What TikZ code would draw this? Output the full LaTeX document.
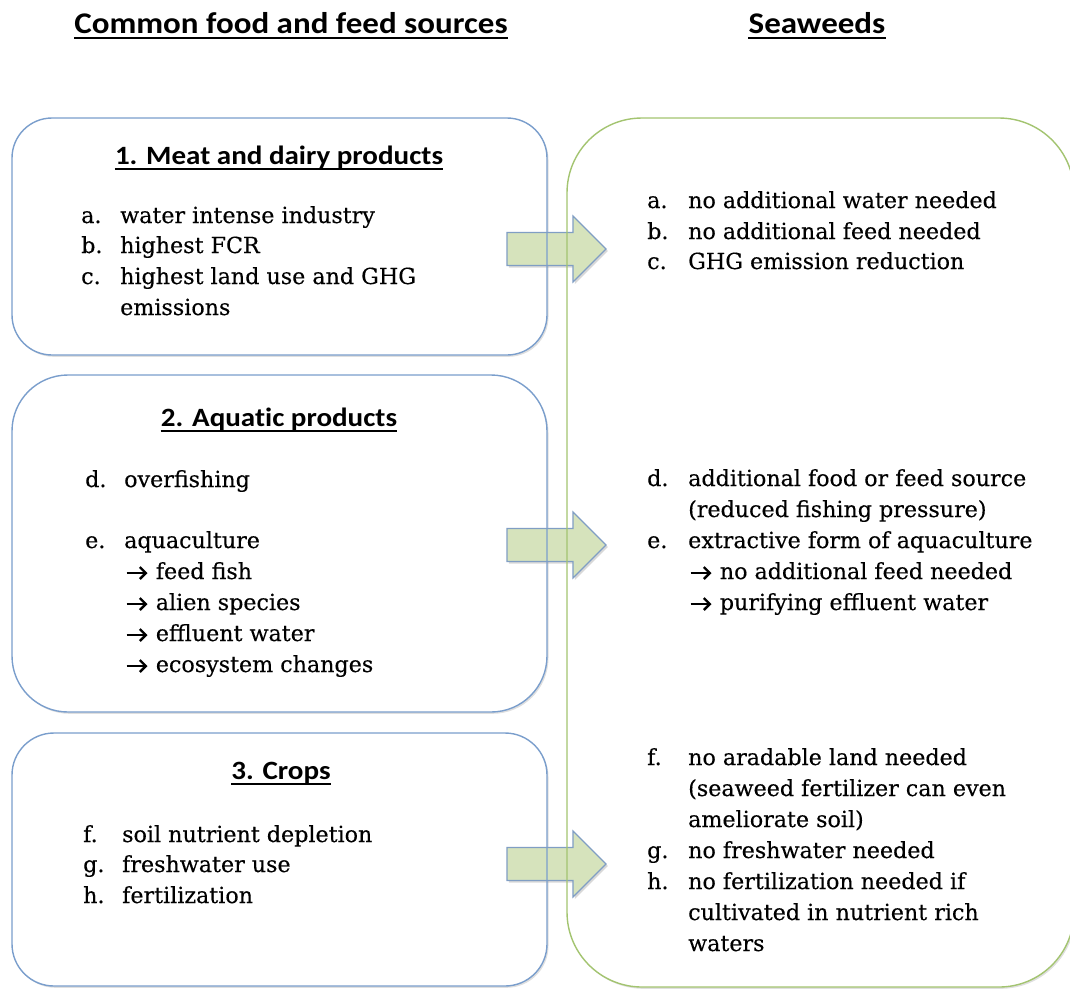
\documentclass[tikz,border=0pt]{standalone}
\usepackage{fontspec}
\setmainfont[FakeBold=0.3]{DejaVu Serif}
\newfontfamily\headfont[FakeStretch=1.1,Ligatures=NoCommon]{Carlito}
\usetikzlibrary{shadows,arrows.meta}
\definecolor{boxblue}{RGB}{122,158,204}
\definecolor{boxgreen}{RGB}{163,196,112}
\definecolor{arrfill}{RGB}{214,227,188}
\definecolor{arrline}{RGB}{128,158,196}
\newcommand{\bodyfnt}{\fontsize{22.2}{31}\selectfont}
\newcommand{\headfnt}{\headfont\bfseries\fontsize{30}{34}\selectfont}
\newcommand{\subfnt}{\headfont\bfseries\fontsize{26.4}{30}\selectfont}
\newcommand{\arr}{\tikz[x=1pt,y=1pt,baseline=-6pt]\draw[line width=2.6pt,-{Straight Barb[length=6pt,width=12pt,line width=2.4pt]}] (0,0) -- (21,0);}
\begin{document}
\begin{tikzpicture}[x=1pt,y=-1pt,
  lbl/.style={anchor=base west, inner sep=0pt, font=\bodyfnt, text=black},
  ttl/.style={anchor=base, inner sep=0pt, font=\headfnt},
  sub/.style={anchor=base, inner sep=0pt, font=\subfnt},
  boxbg/.style={fill=white, draw=none, drop shadow={shadow xshift=1.5pt, shadow yshift=-1.8pt, opacity=0.25, fill=black!50}},
  blueedge/.style={draw=boxblue, line width=1.4pt},
  greenedge/.style={draw=boxgreen, line width=1.4pt},
  blockarrow/.style={fill=arrfill, draw=arrline, line width=1.2pt, line join=miter, drop shadow={shadow xshift=1.8pt, shadow yshift=-2pt, opacity=0.3, fill=black!50}},
  uline/.style={line width=1.6pt}
]
\useasboundingbox (0,0) rectangle (1070,989);

% box backgrounds
\path[boxbg, rounded corners=40pt] (12,118) rectangle (547,355);
\path[boxbg, rounded corners=56pt] (12,375) rectangle (547,712);
\path[boxbg, rounded corners=42pt] (12,733) rectangle (547,986);
\path[boxbg, rounded corners=75pt] (567,118) rectangle (1074,987);

% block arrows
\coordinate (ar1) at (507,249);
\coordinate (ar2) at (507,545);
\coordinate (ar3) at (507,864);
\foreach \a in {ar1,ar2,ar3}{
  \filldraw[blockarrow] (\a) ++(0,-16.5) -- ++(66,0) -- ++(0,-16.5) -- ++(33,33) -- ++(-33,33) -- ++(0,-16.5) -- ++(-66,0) -- cycle;
}

% box outlines
\draw[blueedge, rounded corners=40pt] (12,118) rectangle (547,355);
\draw[blueedge, rounded corners=56pt] (12,375) rectangle (547,712);
\draw[blueedge, rounded corners=42pt] (12,733) rectangle (547,986);
\draw[greenedge, rounded corners=75pt] (567,118) rectangle (1074,987);

% titles
\node[ttl] (t1) at (291,33) {Common food and feed sources};
\node[ttl] (t2) at (817,33) {Seaweeds};
\draw[uline] ([yshift=-5pt]t1.base west) -- ([yshift=-5pt]t1.base east);
\draw[uline] ([yshift=-5pt]t2.base west) -- ([yshift=-5pt]t2.base east);

% sub headings
\node[sub] (h1) at (279,164) {1. Meat and dairy products};
\node[sub] (h2) at (279,426) {2. Aquatic products};
\node[sub] (h3) at (281,779) {3. Crops};
\foreach \h in {h1,h2,h3}{
  \draw[line width=1.3pt] ([yshift=-5pt]\h.base west) -- ([yshift=-5pt]\h.base east);
}

% box 1
\node[lbl] (l1a) at (81,223) {a.};  \node[lbl] (x1a) at (120,223) {water intense industry};
\node[lbl] (l1b) at (81,253) {b.};  \node[lbl] (x1b) at (120,253) {highest FCR};
\node[lbl] (l1c) at (81,284) {c.};  \node[lbl] (x1c) at (120,284) {highest land use and GHG};
\node[lbl] (x1c2) at (120,315) {emissions};

% box 2
\node[lbl] (l2d) at (85,487) {d.};  \node[lbl] (x2d) at (124,487) {overfishing};
\node[lbl] (l2e) at (85,548) {e.};  \node[lbl] (x2e) at (124,548) {aquaculture};
\node[lbl] (x2e1) at (125,579) {\arr{} feed fish};
\node[lbl] (x2e2) at (125,610) {\arr{} alien species};
\node[lbl] (x2e3) at (125,641) {\arr{} effluent water};
\node[lbl] (x2e4) at (125,672) {\arr{} ecosystem changes};

% box 3
\node[lbl] (l3f) at (83,842) {f.};  \node[lbl] (x3f) at (122,842) {soil nutrient depletion};
\node[lbl] (l3g) at (83,872) {g.};  \node[lbl] (x3g) at (122,872) {freshwater use};
\node[lbl] (l3h) at (83,903) {h.};  \node[lbl] (x3h) at (122,903) {fertilization};

% right box
\node[lbl] (ra) at (647,208) {a.};  \node[lbl] (rxa) at (688,208) {no additional water needed};
\node[lbl] (rb) at (647,239) {b.};  \node[lbl] (rxb) at (688,239) {no additional feed needed};
\node[lbl] (rc) at (647,269) {c.};  \node[lbl] (rxc) at (688,269) {GHG emission reduction};

\node[lbl] (rd) at (647,486) {d.};  \node[lbl] (rxd) at (688,486) {additional food or feed source};
\node[lbl] (rxd2) at (688,517) {(reduced fishing pressure)};
\node[lbl] (re) at (647,548) {e.};  \node[lbl] (rxe) at (688,548) {extractive form of aquaculture};
\node[lbl] (rxe1) at (689,579) {\arr{} no additional feed needed};
\node[lbl] (rxe2) at (689,610) {\arr{} purifying effluent water};

\node[lbl] (rf) at (647,765) {f.};  \node[lbl] (rxf) at (688,765) {no aradable land needed};
\node[lbl] (rxf2) at (688,796) {(seaweed fertilizer can even};
\node[lbl] (rxf3) at (688,827) {ameliorate soil)};
\node[lbl] (rg) at (647,858) {g.};  \node[lbl] (rxg) at (688,858) {no freshwater needed};
\node[lbl] (rh) at (647,889) {h.};  \node[lbl] (rxh) at (688,889) {no fertilization needed if};
\node[lbl] (rxh2) at (688,920) {cultivated in nutrient rich};
\node[lbl] (rxh3) at (688,951) {waters};
\end{tikzpicture}
\end{document}
